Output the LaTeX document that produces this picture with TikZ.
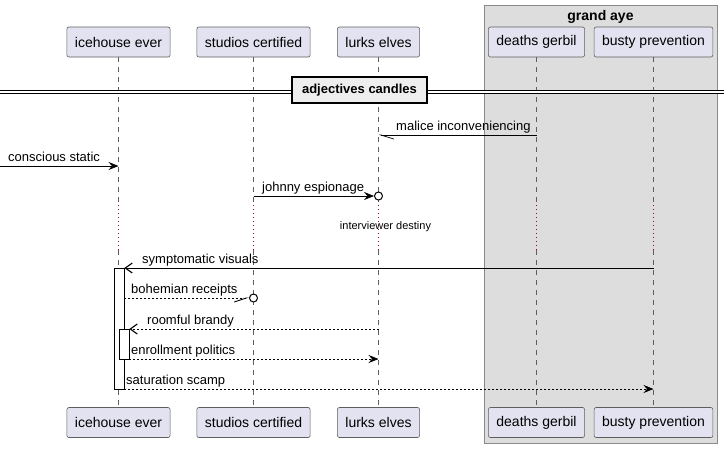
\documentclass[tikz,border=0pt]{standalone}
\usepackage{fontspec}
\setmainfont{Liberation Sans}
\usepackage{tikz}
\usetikzlibrary{positioning, arrows.meta}

\definecolor{partfill}{HTML}{E2E2F0}
\definecolor{partline}{HTML}{5E5E5E}
\definecolor{boxfill}{HTML}{DDDDDD}
\definecolor{boxline}{HTML}{8A8A8A}
\definecolor{divfill}{HTML}{EEEEEE}
\definecolor{delaydot}{HTML}{A80036}

\begin{document}
\begin{tikzpicture}[
                x=1pt, y=-1pt, % 像素坐标, y 向下
                every node/.style={
                    inner sep=0pt, % 内边距为 0
                    font=\fontsize{13}{15}\selectfont % 消息字体
                },
                part/.style={
                    draw=partline, fill=partfill, % 参与者方框
                    rounded corners=2pt,
                    minimum height=30pt,
                    inner xsep=8pt,
                    line width=0.6pt,
                    font=\fontsize{14}{16}\selectfont
                },
                lifeline/.style={draw=partline, dash pattern=on 5pt off 5pt, line width=0.5pt}, % 生命线
                delayline/.style={draw=delaydot, dash pattern=on 1.2pt off 2.8pt, line width=1.2pt}, % 延迟
                actbar/.style={draw=black, fill=white, minimum width=10pt, line width=0.7pt, anchor=north}, % 激活条
                msg/.style={draw=black, line width=0.7pt}, % 实线消息
                reply/.style={msg, dash pattern=on 2pt off 2pt}, % 虚线消息
                solidtip/.style={-{Stealth[length=10pt, width=8pt, inset=3.5pt]}},
                opentip/.style={-{Straight Barb[length=7pt, width=10pt, line width=1.1pt]}},
                endcirc/.style={circle, draw=black, fill=white, line width=1pt, minimum size=8pt},
                lbl/.style={anchor=base west}
            ]
            \useasboundingbox (0,0) rectangle (724,448);

            % 分组框
            \node (grp) [draw=boxline, fill=boxfill, line width=0.8pt, minimum width=233pt, minimum height=438pt, anchor=north west] at (484,5) {};
            \node (grp-title) [font=\fontsize{14}{16}\selectfont\bfseries, anchor=base] at (600.5,20) {grand aye};

            % 参与者 (上下各一个)
            \foreach \p/\x/\t in {ice/118.5/icehouse ever, stu/253.5/studios certified, lurk/378.5/lurks elves, gerb/536.5/deaths gerbil, busty/653.5/busty prevention} {
                \node (\p-top) [part] at (\x,42) {\t};
                \node (\p-bot) [part] at (\x,422.5) {\t};
            }

            % 各消息的高度
            \coordinate (m1) at (0,135);
            \coordinate (lost) at (0,166);
            \coordinate (m3) at (0,196);
            \coordinate (dly1) at (0,205);
            \coordinate (dly2) at (0,250);
            \coordinate (m5) at (0,268);
            \coordinate (m6) at (0,298);
            \coordinate (m7) at (0,329);
            \coordinate (m8) at (0,359);
            \coordinate (m9) at (0,389);

            % 生命线
            \foreach \p in {ice, stu, lurk, gerb, busty} {
                \draw [lifeline] (\p-top.south) -- (\p-top |- dly1);
                \draw [delayline] (\p-top |- dly1) -- (\p-top |- dly2);
                \draw [lifeline] (\p-top |- dly2) -- (\p-bot.north);
            }

            % 分隔线
            \coordinate (divL) at (0,92);
            \coordinate (divR) at (724,92);
            \draw [double, double distance=2.6pt, line width=0.8pt] (divL) -- (divR);
            \node (div) [draw=black, fill=divfill, line width=1.6pt, minimum width=135pt, minimum height=26pt, font=\fontsize{13}{15}\selectfont\bfseries] at (359.5,90) {adjectives candles};

            % 激活条
            \node (act1) [actbar, minimum height=121pt] at (119,268) {};
            \node (act2) [actbar, minimum height=30pt] at (124,329) {};

            % 消息
            \draw [msg, -{Straight Barb[left, length=13pt, width=8pt]}] (gerb-top |- m1) -- (lurk-top |- m1);
            \node [lbl] at (396,130) {malice inconveniencing};

            \draw [msg, solidtip] (lost) -- (ice-top |- lost);
            \node [lbl] at (8,161) {conscious static};

            \node (c3) [endcirc] at (lurk-top |- m3) {};
            \draw [msg, solidtip] (stu-top |- m3) -- (c3.west);
            \node [lbl] at (262,191) {johnny espionage};

            \node (dlytext) [font=\fontsize{11}{13}\selectfont, anchor=base] at (385.5,229) {interviewer destiny};

            \draw [msg, opentip] (busty-top |- m5) -- (act1.east |- m5);
            \node [lbl] at (142,263) {symptomatic visuals};

            \node (c6) [endcirc] at (stu-top |- m6) {};
            \draw [reply, -{Straight Barb[right, length=12pt, width=8pt, line width=0.9pt, sep=0pt]}] (act1.east |- m6) -- (c6.west);
            \node [lbl] at (131,293) {bohemian receipts};

            \draw [reply, opentip] (lurk-top |- m7) -- (act2.east |- m7);
            \node [lbl] at (147,324) {roomful brandy};

            \draw [reply, solidtip] (act2.east |- m8) -- (lurk-top |- m8);
            \node [lbl] at (131,354) {enrollment politics};

            \draw [reply, solidtip] (act1.east |- m9) -- (busty-top |- m9);
            \node [lbl] at (126,384) {saturation scamp};
\end{tikzpicture}
\end{document}
